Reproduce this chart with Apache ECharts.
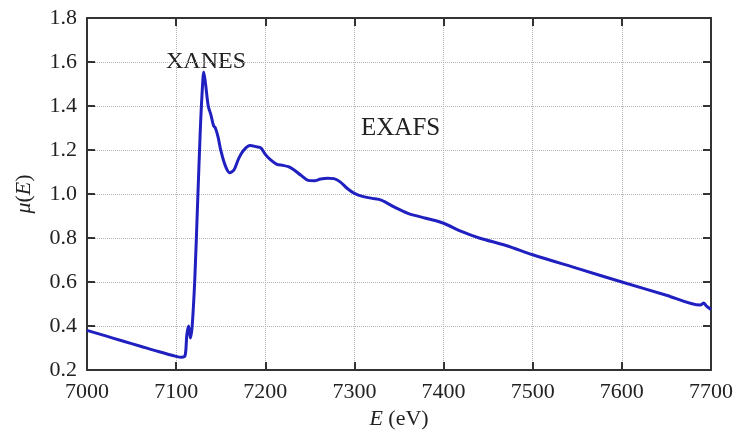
<!DOCTYPE html>
<html><head><meta charset="utf-8">
<script src="https://cdn.jsdelivr.net/npm/echarts@6/dist/echarts.min.js"></script>
<style>html,body{margin:0;padding:0;background:#fff}#c{width:736px;height:432px}</style>
</head><body><div id="c"></div>
<script>
var energy = [7000,7020,7040,7060,7080,7100,7106,7110,7112,7114,7116,7118,7121,7124,7127,7129,7131,7133,7136,7139,7142,7144,7147,7150,7155,7160,7165,7170,7176,7183,7190,7195,7200,7206,7213,7220,7226,7232,7240,7248,7255,7262,7270,7277,7284,7292,7300,7310,7320,7330,7345,7360,7380,7400,7420,7440,7470,7500,7550,7600,7650,7688,7692,7695,7700];
var mu = [0.38,0.356,0.332,0.308,0.284,0.262,0.258,0.265,0.36,0.40,0.345,0.40,0.62,0.95,1.28,1.45,1.555,1.50,1.40,1.36,1.31,1.30,1.26,1.20,1.13,1.097,1.11,1.16,1.20,1.22,1.215,1.21,1.18,1.155,1.135,1.13,1.124,1.11,1.085,1.062,1.06,1.068,1.072,1.07,1.055,1.025,1.003,0.988,0.98,0.972,0.94,0.912,0.89,0.867,0.83,0.80,0.766,0.724,0.662,0.600,0.540,0.495,0.505,0.49,0.475];
var xTicks = [7000,7100,7200,7300,7400,7500,7600,7700];
var yTicks = [0.2,0.4,0.6,0.8,1.0,1.2,1.4,1.6,1.8];
var annotations = ['XANES','EXAFS'];

var font = 'Liberation Serif';
var chart = echarts.init(document.getElementById('c'));
var pts = energy.map(function(e,i){return [e,mu[i]];});
var frame = {show:true,lineStyle:{color:'#333',width:2}};
var tickIn = {show:true,inside:true,length:8,lineStyle:{color:'#333',width:2}};
var grid = {show:true,type:'dotted',color:'#b5b5b5',width:1};
chart.setOption({
  animation:false,
  grid:{left:87,right:25,top:18,bottom:62,containLabel:false,outerBoundsMode:'none'},
  xAxis:[{type:'value',min:xTicks[0],max:xTicks[xTicks.length-1],interval:100,
    axisLine:frame,axisTick:tickIn,splitLine:{show:true,lineStyle:grid},
    axisLabel:{color:'#222',fontFamily:font,fontSize:22,margin:11,formatter:function(v){return String(v);}},
    name:'{i|E} (eV)',nameLocation:'middle',nameGap:37,
    nameTextStyle:{color:'#222',fontFamily:font,fontSize:22,rich:{i:{fontStyle:'italic',fontFamily:font,fontSize:22,color:'#222'}}}},
   {type:'value',position:'top',min:xTicks[0],max:xTicks[xTicks.length-1],interval:100,
    axisLine:frame,axisTick:tickIn,axisLabel:{show:false},splitLine:{show:false}}],
  yAxis:[{type:'value',min:yTicks[0],max:yTicks[yTicks.length-1],interval:0.2,
    axisLine:frame,axisTick:tickIn,splitLine:{show:true,lineStyle:grid},
    axisLabel:{color:'#222',fontFamily:font,fontSize:22,margin:10,formatter:function(v){return v.toFixed(1);}},
    name:'{i|μ}({i|E})',nameLocation:'middle',nameGap:52,
    nameTextStyle:{color:'#222',fontFamily:font,fontSize:22,rich:{i:{fontStyle:'italic',fontFamily:font,fontSize:22,color:'#222'}}}},
   {type:'value',position:'right',min:yTicks[0],max:yTicks[yTicks.length-1],interval:0.2,
    axisLine:frame,axisTick:tickIn,axisLabel:{show:false},splitLine:{show:false}}],
  graphic:[
    {type:'text',left:166,top:50,style:{text:annotations[0],font:'24px "'+font+'"',fill:'#222'}},
    {type:'text',left:361,top:116,style:{text:annotations[1],font:'25px "'+font+'"',fill:'#222'}}
  ],
  series:[{type:'line',data:pts,showSymbol:false,smooth:0.3,
    lineStyle:{color:'#2020c0',width:3}}]
});
</script></body></html>
